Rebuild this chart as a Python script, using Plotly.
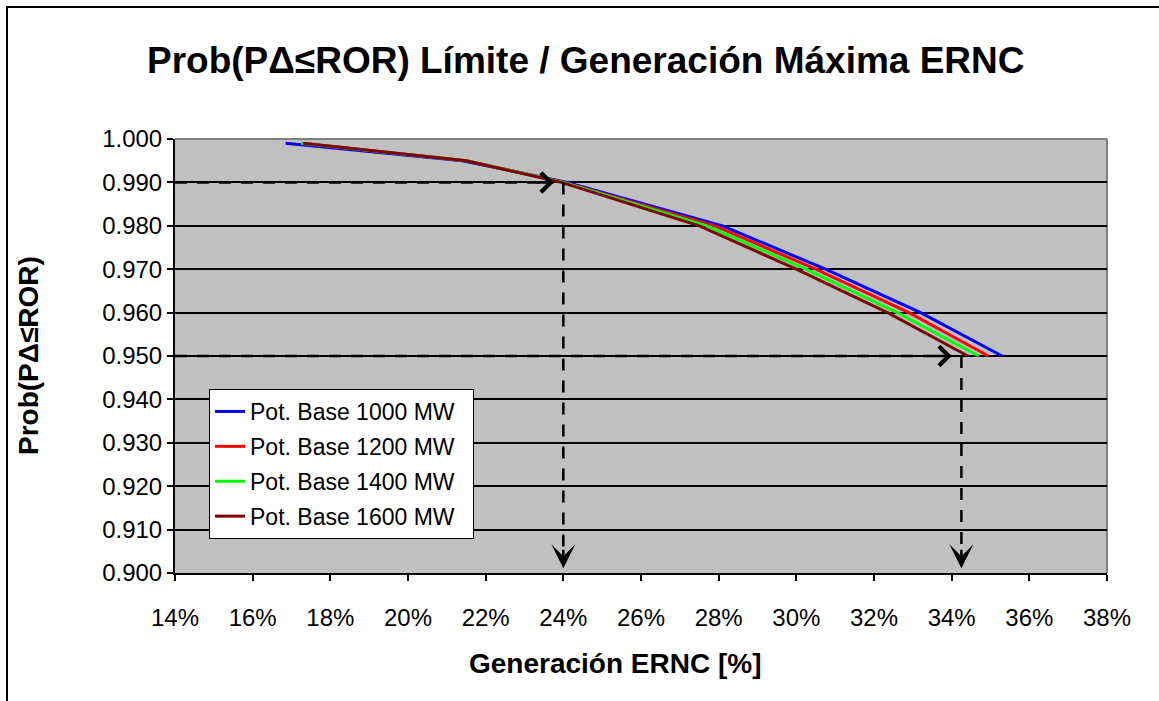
import plotly.graph_objects as go

# ---- data ----
prob = [0.999, 0.995, 0.990, 0.980, 0.970, 0.960, 0.950]
gen_1000 = [16.85, 21.40, 24.10, 28.10, 30.75, 33.20, 35.30]
gen_1200 = [17.25, 21.50, 24.02, 27.90, 30.50, 32.90, 34.95]
gen_1400 = [17.25, 21.50, 24.00, 27.70, 30.25, 32.60, 34.70]
gen_1600 = [17.30, 21.50, 23.95, 27.50, 30.00, 32.35, 34.42]
series_names = ["Pot. Base 1000 MW", "Pot. Base 1200 MW", "Pot. Base 1400 MW", "Pot. Base 1600 MW"]
series_colors = ["#0000FF", "#FF0000", "#00FF00", "#800000"]

# reference lines (limit probability -> generation)
ref_prob = [0.990, 0.950]
ref_gen = [24.0, 34.25]
ref_arrow_h_tip = [23.75, 34.0]

x_ticks = [14, 16, 18, 20, 22, 24, 26, 28, 30, 32, 34, 36, 38]
y_ticks = [0.900, 0.910, 0.920, 0.930, 0.940, 0.950, 0.960, 0.970, 0.980, 0.990, 1.000]

FONT = "Liberation Sans, Arial, sans-serif"
W, H = 1159, 701
L, R, T, B = 175, 52, 139, 128
PW, PH = W - L - R, H - T - B

def px_x(px):
    return (px - L) / PW

def px_y(py):
    return (H - B - py) / PH

fig = go.Figure()

for i, (name, col, gen) in enumerate(zip(series_names, series_colors, [gen_1000, gen_1200, gen_1400, gen_1600])):
    fig.add_trace(go.Scatter(
        x=gen, y=prob, mode="lines", name=name + "  ",
        line=dict(color=col, width=3),
        legendgroup=f"g{i}",
    ))

# dashed guide lines
for p, g, tip in zip(ref_prob, ref_gen, ref_arrow_h_tip):
    fig.add_trace(go.Scatter(
        x=[x_ticks[0], tip], y=[p, p], mode="lines",
        line=dict(color="black", width=2.5, dash="12px,10px"),
        showlegend=False, hoverinfo="skip",
    ))
    fig.add_trace(go.Scatter(
        x=[g, g], y=[p, y_ticks[0] + 0.002], mode="lines",
        line=dict(color="black", width=2.5, dash="12px,10px"),
        showlegend=False, hoverinfo="skip",
    ))

annotations = []
for p, g, tip in zip(ref_prob, ref_gen, ref_arrow_h_tip):
    annotations.append(dict(
        x=tip, y=p, xref="x", yref="y", ax=-18, ay=0, text="",
        showarrow=True, arrowhead=4, arrowwidth=2.5, arrowsize=1.5,
        arrowcolor="black", standoff=0,
    ))
    annotations.append(dict(
        x=g, y=y_ticks[0] + 0.0011, xref="x", yref="y", ax=0, ay=-20, text="",
        showarrow=True, arrowhead=3, arrowwidth=2.5, arrowsize=1.6,
        arrowcolor="black", standoff=0,
    ))

annotations.append(dict(
    text="<b>Prob(PΔ≤ROR) Límite / Generación Máxima ERNC</b>",
    xref="paper", yref="paper", x=px_x(586), y=px_y(60),
    xanchor="center", yanchor="middle", showarrow=False,
    font=dict(family=FONT, size=37, color="black"),
))
annotations.append(dict(
    text="<b>Generación ERNC [%]</b>",
    xref="paper", yref="paper", x=px_x(615), y=px_y(663),
    xanchor="center", yanchor="middle", showarrow=False,
    font=dict(family=FONT, size=28, color="black"),
))
annotations.append(dict(
    text="<b>Prob(PΔ≤ROR)</b>",
    xref="paper", yref="paper", x=px_x(28), y=px_y(356),
    xanchor="center", yanchor="middle", showarrow=False, textangle=-90,
    font=dict(family=FONT, size=28, color="black"),
))

shapes = [
    # outer chart border (extends beyond the visible canvas to right/bottom)
    dict(type="rect", xref="paper", yref="paper",
         x0=px_x(7), x1=px_x(1250), y0=px_y(800), y1=px_y(7),
         line=dict(color="black", width=2), fillcolor="rgba(0,0,0,0)", layer="below"),
    # gray plot border top/right
    dict(type="line", xref="paper", yref="paper", x0=0, x1=1, y0=1, y1=1,
         line=dict(color="#808080", width=2), layer="below"),
    dict(type="line", xref="paper", yref="paper", x0=1, x1=1, y0=0, y1=1,
         line=dict(color="#808080", width=2), layer="below"),
]

fig.update_layout(
    width=W, height=H,
    margin=dict(l=L, r=R, t=T, b=B),
    paper_bgcolor="white", plot_bgcolor="#C0C0C0",
    font=dict(family=FONT, color="black"),
    showlegend=True,
    legend=dict(
        x=px_x(209), y=px_y(389), xanchor="left", yanchor="top",
        bgcolor="white", bordercolor="black", borderwidth=1,
        font=dict(family=FONT, size=23, color="black"),
        traceorder="grouped", tracegroupgap=2, itemwidth=30,
    ),
    annotations=annotations,
    shapes=shapes,
)

fig.update_xaxes(
    range=[x_ticks[0], x_ticks[-1]], tickvals=x_ticks,
    ticktext=[f"{v}%" for v in x_ticks],
    showgrid=False, zeroline=False,
    showline=True, linecolor="black", linewidth=2,
    ticks="outside", ticklen=6, tickwidth=2, tickcolor="black",
    ticklabelstandoff=16,
    tickfont=dict(family=FONT, size=24, color="black"),
)
fig.update_yaxes(
    range=[y_ticks[0], y_ticks[-1]], tickvals=y_ticks,
    ticktext=[f"{v:.3f}" for v in y_ticks],
    showgrid=True, gridcolor="black", gridwidth=1.5,
    zeroline=False,
    showline=True, linecolor="black", linewidth=2,
    ticks="outside", ticklen=6, tickwidth=2, tickcolor="black",
    tickfont=dict(family=FONT, size=24, color="black"),
)

fig.write_html(
    "out.html",
    config={"displayModeBar": False},
    post_script="document.body.style.margin='0';document.body.style.padding='0';",
)
